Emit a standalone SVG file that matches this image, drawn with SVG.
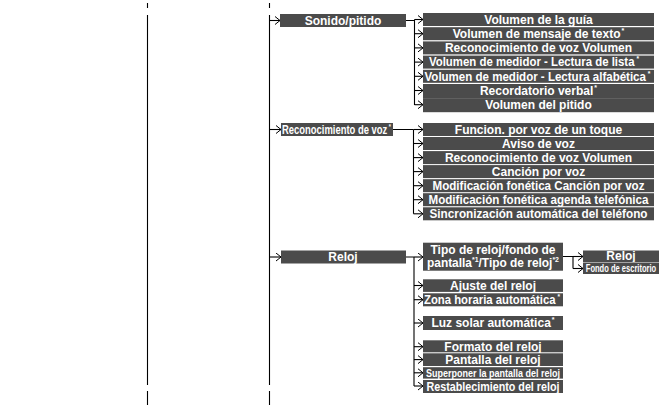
<svg xmlns="http://www.w3.org/2000/svg" width="662" height="410" viewBox="0 0 662 410">
<style>
.box{fill:#4b4b4b}
.t{font-family:"Liberation Sans",Arial,sans-serif;font-weight:bold;font-size:12px;fill:#fff;text-anchor:middle}
.l{text-anchor:start}
.s{font-size:7px}
.a{font-family:"Liberation Sans",Arial,sans-serif;font-weight:bold;font-size:7px;fill:#fff;text-anchor:start}
.ln{stroke:#000;stroke-width:1.1;fill:none}
.ar{stroke:#000;stroke-width:1.1;fill:none;marker-end:url(#ah)}
</style>
<defs>
<marker id="ah" markerUnits="userSpaceOnUse" markerWidth="8" markerHeight="10" refX="6" refY="4.5" orient="auto">
<path d="M1,0.5 L6,4.5 L1,8.5" fill="none" stroke="#000" stroke-width="1"/>
</marker>
</defs>
<rect width="662" height="410" fill="#fff"/>
<g id="connectors">
<path class="ln" d="M147.5,3V8M147.5,15V385M147.5,391V405"/>
<path class="ln" d="M269.5,3V8M269.5,15V385M269.5,391V405"/>
<path class="ar" d="M269.5,20.5H280"/>
<path class="ar" d="M269.5,129.5H281"/>
<path class="ar" d="M269.5,257H281"/>
<path class="ln" d="M406,20.5H414.5M414.5,19.5V105"/>
<path class="ar" d="M414.5,19.5H423"/>
<path class="ar" d="M414.5,33.7H423"/>
<path class="ar" d="M414.5,47.9H423"/>
<path class="ar" d="M414.5,62.1H423"/>
<path class="ar" d="M414.5,76.3H423"/>
<path class="ar" d="M414.5,90.5H423"/>
<path class="ar" d="M414.5,104.7H423"/>
<path class="ln" d="M393,129.5H413.5M413.5,129.5V213.8"/>
<path class="ar" d="M413.5,129.5H423"/>
<path class="ar" d="M413.5,143.5H423"/>
<path class="ar" d="M413.5,157.6H423"/>
<path class="ar" d="M413.5,171.6H423"/>
<path class="ar" d="M413.5,185.7H423"/>
<path class="ar" d="M413.5,199.7H423"/>
<path class="ar" d="M413.5,213.8H423"/>
<path class="ln" d="M406,257H414M414,257V386"/>
<path class="ar" d="M414,257H423"/>
<path class="ar" d="M414,285.5H423"/>
<path class="ar" d="M414,299.7H423"/>
<path class="ar" d="M414,323H423"/>
<path class="ar" d="M414,346.7H423"/>
<path class="ar" d="M414,359.6H423"/>
<path class="ar" d="M414,372.8H423"/>
<path class="ar" d="M414,386H423"/>
<path class="ln" d="M563,256.5H573M573,256.5V268.5"/>
<path class="ar" d="M573,256.5H583"/>
<path class="ar" d="M573,268.5H583"/>
</g>
<g id="n-sonido"><rect class="box" x="280" y="14" width="126" height="13"/><text class="t" x="343" y="24.8">Sonido/pitido</text></g>
<g id="n-s1"><rect class="box" x="423" y="13" width="231" height="13"/><text class="t" x="538.5" y="23.8">Volumen de la guía</text></g>
<g id="n-s2"><rect class="box" x="423" y="27.2" width="231" height="13"/><text class="t" x="538.5" y="38">Volumen de mensaje de texto<tspan class="s" dx="1" dy="-5">*</tspan></text></g>
<g id="n-s3"><rect class="box" x="423" y="41.4" width="231" height="13"/><text class="t" x="538.5" y="52.2">Reconocimiento de voz Volumen</text></g>
<g id="n-s4"><rect class="box" x="423" y="55.6" width="231" height="13"/><text class="t l" x="429" y="66.4" textLength="210" lengthAdjust="spacingAndGlyphs">Volumen de medidor - Lectura de lista<tspan class="s" dx="2" dy="-5">*</tspan></text></g>
<g id="n-s5"><rect class="box" x="423" y="69.8" width="231" height="13"/><text class="t l" x="424.5" y="80.6" textLength="226" lengthAdjust="spacingAndGlyphs">Volumen de medidor - Lectura alfabética<tspan class="s" dx="2" dy="-5">*</tspan></text></g>
<g id="n-s6"><rect class="box" x="423" y="84" width="231" height="14.4"/><text class="t" x="538.5" y="94.8">Recordatorio verbal<tspan class="s" dx="1" dy="-5">*</tspan></text></g>
<g id="n-s7"><rect class="box" x="423" y="98.2" width="231" height="14"/><text class="t" x="538.5" y="109">Volumen del pitido</text></g>
<g id="n-recon"><rect class="box" x="281" y="123" width="112" height="13"/><text class="t l" x="282" y="133.8" textLength="109" lengthAdjust="spacingAndGlyphs">Reconocimiento de voz<tspan class="s" dx="2" dy="-5">*</tspan></text></g>
<g id="n-r1"><rect class="box" x="423" y="123" width="231" height="13"/><text class="t" x="538.5" y="133.8">Funcion. por voz de un toque</text></g>
<g id="n-r2"><rect class="box" x="423" y="137" width="231" height="13"/><text class="t" x="538.5" y="147.8">Aviso de voz</text></g>
<g id="n-r3"><rect class="box" x="423" y="151.1" width="231" height="13"/><text class="t" x="538.5" y="161.9">Reconocimiento de voz Volumen</text></g>
<g id="n-r4"><rect class="box" x="423" y="165.1" width="231" height="13"/><text class="t" x="538.5" y="175.9">Canción por voz</text></g>
<g id="n-r5"><rect class="box" x="423" y="179.2" width="231" height="13"/><text class="t" x="538.5" y="190" textLength="212" lengthAdjust="spacingAndGlyphs">Modificación fonética Canción por voz</text></g>
<g id="n-r6"><rect class="box" x="423" y="193.2" width="231" height="13"/><text class="t" x="538.5" y="204" textLength="220" lengthAdjust="spacingAndGlyphs">Modificación fonética agenda telefónica</text></g>
<g id="n-r7"><rect class="box" x="423" y="207.3" width="231" height="13"/><text class="t" x="538.5" y="218.1" textLength="218" lengthAdjust="spacingAndGlyphs">Sincronización automática del teléfono</text></g>
<g id="n-reloj"><rect class="box" x="281" y="250.5" width="125" height="13"/><text class="t" x="343" y="261.3">Reloj</text></g>
<g id="n-c1"><rect class="box" x="423" y="242.7" width="140" height="28"/><text class="t" x="493" y="253.5">Tipo de reloj/fondo de</text><text class="t" x="493" y="266.5" textLength="132" lengthAdjust="spacingAndGlyphs">pantalla<tspan class="s" dy="-5">*1</tspan><tspan dy="5">/Tipo de reloj</tspan><tspan class="s" dy="-5">*2</tspan></text></g>
<g id="n-c1a"><rect class="box" x="583" y="250.5" width="76" height="11.5"/><text class="t" x="621" y="260.3">Reloj</text></g>
<g id="n-c1b"><rect class="box" x="583" y="262.5" width="76" height="11.5"/><text class="t" transform="translate(621,272) scale(0.72,1)" x="0" y="0" style="font-size:10.5px">Fondo de escritorio</text></g>
<g id="n-c2"><rect class="box" x="423" y="279.3" width="140" height="12.6"/><text class="t" x="493" y="289.9">Ajuste del reloj</text></g>
<g id="n-c3"><rect class="box" x="423" y="293.3" width="140" height="13"/><text class="t l" x="424" y="304" textLength="136" lengthAdjust="spacingAndGlyphs">Zona horaria automática<tspan class="s" dx="2" dy="-5">*</tspan></text></g>
<g id="n-c4"><rect class="box" x="423" y="316" width="140" height="14"/><text class="t" x="493" y="327.2">Luz solar automática<tspan class="s" dx="1" dy="-5">*</tspan></text></g>
<g id="n-c5"><rect class="box" x="423" y="340.3" width="140" height="12"/><text class="t" x="493" y="350.6">Formato del reloj</text></g>
<g id="n-c6"><rect class="box" x="423" y="353.3" width="140" height="12.7"/><text class="t" x="493" y="363.9">Pantalla del reloj</text></g>
<g id="n-c7"><rect class="box" x="423" y="367.2" width="140" height="11.4"/><text class="t" x="493" y="376.8" style="font-size:10.5px" textLength="134" lengthAdjust="spacingAndGlyphs">Superponer la pantalla del reloj</text></g>
<g id="n-c8"><rect class="box" x="423" y="380" width="140" height="13"/><text class="t" x="493" y="390.6" textLength="133" lengthAdjust="spacingAndGlyphs">Restablecimiento del reloj</text></g>
</svg>
